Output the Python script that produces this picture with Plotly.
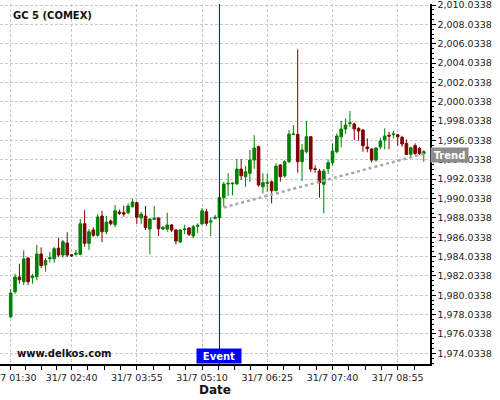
import pandas as pd
import plotly.graph_objects as go

# ---------------- data ----------------
start_time = "2023-07-31 01:30"
n_candles = 96
opens = [1977.82, 1980.40, 1981.92, 1981.43, 1983.88, 1981.85, 1981.95, 1984.30, 1983.16, 1983.81,
         1983.81, 1984.91, 1984.19, 1985.43, 1984.22, 1984.27, 1984.27, 1987.43, 1985.40, 1986.78,
         1986.23, 1988.22, 1986.60, 1987.71, 1987.33, 1988.64, 1988.57, 1988.57, 1989.19, 1989.60,
         1988.02, 1988.22, 1986.88, 1987.88, 1988.02, 1986.88, 1986.88, 1987.30, 1986.78, 1985.54,
         1986.83, 1986.98, 1986.16, 1987.16, 1987.40, 1988.67, 1987.60, 1987.99, 1988.05, 1990.12,
         1991.53, 1991.55, 1991.53, 1993.08, 1992.29, 1992.64, 1994.01, 1995.39, 1991.25, 1991.60,
         1991.77, 1990.84, 1993.50, 1992.36, 1993.84, 1996.67, 1996.67, 1993.84, 1994.87, 1996.42,
         1993.10, 1992.87, 1991.50, 1993.11, 1993.73, 1994.87, 1996.42, 1997.22, 1997.78, 1997.73,
         1997.29, 1997.11, 1995.36, 1995.15, 1994.01, 1995.36, 1996.08, 1996.57, 1996.63, 1996.63,
         1996.36, 1995.74, 1994.60, 1995.49, 1995.22, 1994.70]
highs = [1980.68, 1982.26, 1983.29, 1984.68, 1983.95, 1982.26, 1985.23, 1984.99, 1983.88, 1984.50,
         1985.02, 1985.98, 1985.77, 1986.54, 1984.30, 1984.71, 1987.91, 1988.84, 1986.88, 1987.06,
         1988.43, 1988.77, 1988.25, 1987.88, 1989.36, 1988.90, 1989.29, 1989.54, 1990.01, 1989.70,
         1988.64, 1989.26, 1988.00, 1989.26, 1988.10, 1987.19, 1988.57, 1987.40, 1986.88, 1986.85,
         1987.33, 1987.10, 1987.30, 1987.47, 1989.05, 1988.98, 1988.09, 1988.36, 1990.29, 1991.74,
         1992.64, 1991.70, 1994.12, 1994.12, 1993.39, 1995.05, 1996.57, 1995.50, 1992.64, 1992.64,
         1991.90, 1993.67, 1993.60, 1994.00, 1997.11, 1997.63, 2005.45, 1995.67, 1998.07, 1996.50,
         1993.46, 1993.10, 1993.10, 1994.08, 1995.74, 1996.77, 1998.07, 1998.32, 1999.08, 1997.90,
         1997.40, 1997.20, 1996.26, 1995.25, 1995.36, 1996.32, 1997.29, 1996.94, 1997.04, 1996.70,
         1996.52, 1996.15, 1995.39, 1995.74, 1995.36, 1995.05]
lows = [1977.65, 1980.19, 1981.23, 1981.09, 1981.09, 1981.23, 1981.58, 1982.85, 1982.47, 1983.40,
        1983.40, 1983.99, 1983.91, 1983.99, 1984.00, 1984.12, 1984.16, 1985.05, 1984.71, 1986.08,
        1986.08, 1985.54, 1986.33, 1987.26, 1987.06, 1988.33, 1988.15, 1988.40, 1989.10, 1987.40,
        1987.40, 1986.78, 1984.27, 1987.81, 1986.16, 1986.78, 1986.60, 1986.57, 1985.30, 1985.43,
        1986.36, 1986.16, 1985.92, 1986.44, 1987.35, 1987.19, 1986.16, 1987.88, 1988.00, 1989.19,
        1990.29, 1990.36, 1991.50, 1991.95, 1991.25, 1991.77, 1993.11, 1991.25, 1990.57, 1990.74,
        1989.54, 1990.80, 1991.77, 1992.20, 1993.70, 1996.60, 1992.70, 1991.84, 1994.70, 1992.77,
        1992.70, 1990.12, 1988.50, 1992.56, 1993.46, 1994.70, 1995.32, 1996.70, 1997.45, 1996.08,
        1996.01, 1994.87, 1994.81, 1993.77, 1993.84, 1995.12, 1995.12, 1995.12, 1996.26, 1995.49,
        1995.39, 1994.53, 1994.35, 1994.53, 1994.53, 1993.84]
closes = [1980.27, 1981.92, 1981.64, 1983.78, 1981.43, 1982.02, 1984.30, 1983.09, 1983.65, 1983.91,
          1984.84, 1984.19, 1985.57, 1984.19, 1984.12, 1984.37, 1987.43, 1985.40, 1986.60, 1986.23,
          1988.12, 1986.60, 1987.60, 1987.43, 1988.77, 1988.50, 1988.43, 1989.26, 1989.67, 1988.09,
          1988.43, 1987.04, 1987.91, 1987.99, 1986.91, 1987.04, 1987.30, 1986.78, 1985.64, 1986.78,
          1986.88, 1986.33, 1987.12, 1987.26, 1988.77, 1987.47, 1987.71, 1988.09, 1990.12, 1991.53,
          1991.60, 1991.62, 1993.08, 1992.39, 1992.80, 1994.01, 1995.25, 1991.43, 1991.67, 1991.70,
          1990.84, 1993.39, 1992.29, 1993.84, 1996.70, 1996.70, 1993.84, 1995.05, 1996.42, 1993.08,
          1993.05, 1991.67, 1992.87, 1993.73, 1994.94, 1996.49, 1997.22, 1997.63, 1997.85, 1997.22,
          1997.01, 1995.49, 1995.18, 1994.01, 1995.25, 1995.98, 1996.49, 1996.49, 1996.70, 1996.42,
          1995.67, 1994.60, 1995.28, 1994.70, 1994.70, 1994.87]

trend_times = ["2023-07-31 05:35", "2023-07-31 09:25"]
trend_values = [1989.11, 1994.66]

event_time = "2023-07-31 05:30"

x_tick_times = ["2023-07-31 01:30", "2023-07-31 02:40", "2023-07-31 03:55", "2023-07-31 05:10",
                "2023-07-31 06:25", "2023-07-31 07:40", "2023-07-31 08:55"]
x_tick_labels = ["31/7 01:30", "31/7 02:40", "31/7 03:55", "31/7 05:10",
                 "31/7 06:25", "31/7 07:40", "31/7 08:55"]
y_tick0 = 1974.0338
y_dtick = 2

title_text = "GC 5 (COMEX)"
watermark_text = "www.delkos.com"

# ---------------- figure ----------------
times = pd.date_range(start_time, periods=n_candles, freq="5min")

# minor ticks: quarters of each major interval
tk = pd.to_datetime(x_tick_times)
minor_vals = []
for a, b in zip(tk[:-1], tk[1:]):
    step = (b - a) / 4
    for k in range(1, 4):
        minor_vals.append(a + step * k)
step_last = (tk[-1] - tk[-2]) / 4
for k in range(1, 3):
    minor_vals.append(tk[-1] + step_last * k)

GREEN = "#008000"
RED = "#800000"
FONT = "DejaVu Sans"

fig = go.Figure()
fig.add_trace(go.Candlestick(
    x=times, open=opens, high=highs, low=lows, close=closes,
    increasing=dict(line=dict(color=GREEN, width=1), fillcolor=GREEN),
    decreasing=dict(line=dict(color=RED, width=1), fillcolor=RED),
    whiskerwidth=0, hoverinfo="skip", showlegend=False,
))
fig.add_trace(go.Scatter(
    x=trend_times, y=trend_values, mode="lines",
    line=dict(color="#a8a8a8", width=2.5, dash="dot"),
    hoverinfo="skip", showlegend=False,
))

fig.add_shape(type="line", xref="x", yref="paper", x0=event_time, x1=event_time,
              y0=0, y1=1, line=dict(color="#0000ff", width=1), layer="above")

fig.add_annotation(xref="paper", yref="paper", x=0.025, y=0.9686, xanchor="left", yanchor="middle",
                   text="<b>" + title_text + "</b>", showarrow=False,
                   font=dict(family=FONT, size=10, color="#111111"))
fig.add_annotation(xref="paper", yref="paper", x=0.035, y=0.0286, xanchor="left", yanchor="middle",
                   text="<b>" + watermark_text + "</b>", showarrow=False,
                   font=dict(family=FONT, size=10, color="#111111"))
fig.add_annotation(xref="x", yref="paper", x=event_time, y=0, xanchor="center", yanchor="bottom",
                   text="<b>Event</b>", showarrow=False, bgcolor="#0000ff", borderpad=0,
                   width=44, height=14, font=dict(family=FONT, size=10, color="white"))
fig.add_annotation(xref="paper", yref="y", x=1, y=trend_values[-1] - 0.08, xanchor="left", yanchor="middle",
                   text="<b>Trend</b>", showarrow=False, bgcolor="#8c8c8c", borderpad=0,
                   width=37, height=14, font=dict(family=FONT, size=10, color="white"))

fig.update_layout(
    width=500, height=400,
    margin=dict(l=0, r=70, t=4, b=36, autoexpand=False),
    paper_bgcolor="white", plot_bgcolor="white",
    font=dict(family=FONT, size=9.5, color="#222222"),
    boxgap=0.15,
    showlegend=False,
    hovermode=False,
    xaxis=dict(
        type="date",
        range=["2023-07-31 01:17:42", "2023-07-31 09:32:06"],
        rangeslider=dict(visible=False),
        automargin=False,
        ticklabeloverflow="allow",
        tickmode="array", tickvals=x_tick_times, ticktext=x_tick_labels,
        ticks="outside", ticklen=4, tickcolor="black",
        showline=True, linecolor="black", linewidth=1.5,
        showgrid=True, gridcolor="#c8c8c8", griddash="3px,2px", gridwidth=1,
        zeroline=False,
        minor=dict(tickmode="array", tickvals=minor_vals, ticks="outside", ticklen=4,
                   tickcolor="black", showgrid=False),
        title=dict(text="<b>Date</b>", font=dict(family=FONT, size=12, color="#111111"), standoff=0),
        tickfont=dict(family=FONT, size=9.5, color="#222222"),
    ),
    yaxis=dict(
        side="right",
        range=[1972.93, 2010.14],
        automargin=False,
        ticklabeloverflow="allow",
        tick0=y_tick0, dtick=y_dtick, tickformat=",.4f",
        ticks="outside", ticklen=4, tickcolor="black",
        showline=True, linecolor="black", linewidth=1.5,
        showgrid=True, gridcolor="#c8c8c8", griddash="3px,2px", gridwidth=1,
        zeroline=False,
        minor=dict(dtick=0.5, tick0=y_tick0, ticks="outside", ticklen=2,
                   tickcolor="black", showgrid=False),
        tickfont=dict(family=FONT, size=9.5, color="#222222"),
    ),
)

fig.write_html(
    "out.html",
    config={"displayModeBar": False, "staticPlot": True},
    post_script=("document.documentElement.style.margin='0';"
                 "document.documentElement.style.overflow='hidden';"
                 "document.body.style.margin='0';"
                 "document.body.style.overflow='hidden';"),
)
